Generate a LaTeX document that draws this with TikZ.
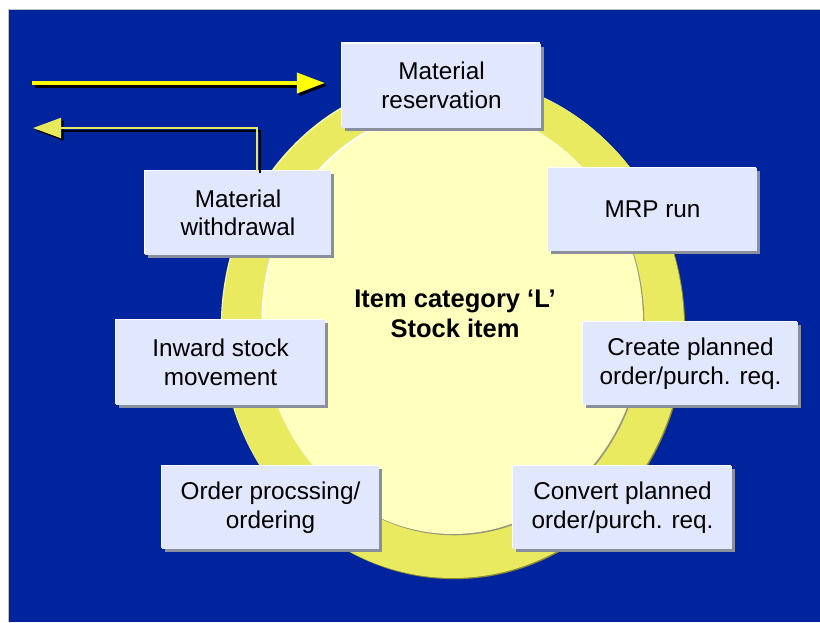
\documentclass[tikz,border=0pt]{standalone}
\usepackage{fontspec}
\setmainfont{Liberation Sans}
\usetikzlibrary{arrows.meta}

\definecolor{bgblue}{RGB}{0,36,158}
\definecolor{ringyellow}{RGB}{234,234,96}
\definecolor{ringdark}{RGB}{140,140,50}
\definecolor{ringlight}{RGB}{248,248,170}
\definecolor{innerfill}{RGB}{255,255,190}
\definecolor{innerline}{RGB}{150,150,120}
\definecolor{boxfill}{RGB}{225,231,252}
\definecolor{boxshadow}{RGB}{138,143,158}
\definecolor{flowyellow}{RGB}{255,255,0}
\definecolor{paleyellow}{RGB}{232,232,92}

\begin{document}
\begin{tikzpicture}[x=1pt,y=-1pt,
  stepbox/.style={
    preaction={fill=boxshadow, transform canvas={xshift=3pt,yshift=-3pt}},
    preaction={fill=white, transform canvas={xshift=-1.2pt,yshift=1.2pt}},
    fill=boxfill, inner sep=0pt, align=center,
    font=\fontsize{24.3}{28.5}\selectfont},
  titletext/.style={font=\bfseries\fontsize{25.5}{30}\selectfont, align=center},
  headtip/.style={-{Triangle[length=28pt,width=20pt]}}
]
\useasboundingbox (0,0) rectangle (820,622);
\fill[white] (0,0) rectangle (820,622);
\fill[bgblue] (8,9) rectangle (820,622);
\draw[black!25, line width=0.8pt] (8,622) -- (8,9) -- (820,9);

% outer ring with bevelled edge
\fill[ringdark] (454.2,329.2) ellipse [x radius=231pt, y radius=250pt];
\fill[ringlight] (451.8,326.8) ellipse [x radius=231pt, y radius=250pt];
\fill[ringyellow] (453,328) ellipse [x radius=231pt, y radius=250pt];

% inner disc
\fill[white] (451.5,320.5) ellipse [x radius=190pt, y radius=212pt];
\fill[innerline] (454.3,323.3) ellipse [x radius=190pt, y radius=212pt];
\fill[innerfill] (453,322) ellipse [x radius=190pt, y radius=212pt];

% process steps
\node[stepbox, minimum width=199pt, minimum height=84pt] (mres) at (441.5,85.5) {Material\\reservation};
\node[stepbox, minimum width=209pt, minimum height=83pt] (mrp) at (652.5,209.5) {MRP run};
\node[stepbox, minimum width=215pt, minimum height=83pt] (cpo) at (690.5,363.5) {Create planned\\order/purch. req.};
\node[stepbox, minimum width=219pt, minimum height=83pt] (conv) at (622.5,507.5) {Convert planned\\order/purch. req.};
\node[stepbox, minimum width=217pt, minimum height=83pt] (ord) at (270.5,507.5) {Order procssing/\\ordering};
\node[stepbox, minimum width=209pt, minimum height=85pt] (inw) at (220.5,362.5) {Inward stock\\movement};
\node[stepbox, minimum width=186pt, minimum height=84pt] (wd) at (238,213) {Material\\withdrawal};

% centre label
\node[titletext] (title) at (455,313.5) {Item category ‘L’\\Stock item};

% incoming and outgoing flows
\coordinate (feedin) at (32,83);
\coordinate (feedout) at (33,128);
\begin{scope}[transform canvas={xshift=2.5pt,yshift=-2.5pt}]
  \draw[black, line width=4pt, headtip] (feedin) -- ([xshift=-17pt]mres.west |- feedin);
  \draw[black, line width=2pt, headtip] ([xshift=19pt]wd.north) |- (feedout);
\end{scope}
\draw[flowyellow, line width=4pt, headtip] (feedin) -- ([xshift=-17pt]mres.west |- feedin);
\draw[paleyellow, line width=2pt, headtip] ([xshift=19pt]wd.north) |- (feedout);
\end{tikzpicture}
\end{document}
